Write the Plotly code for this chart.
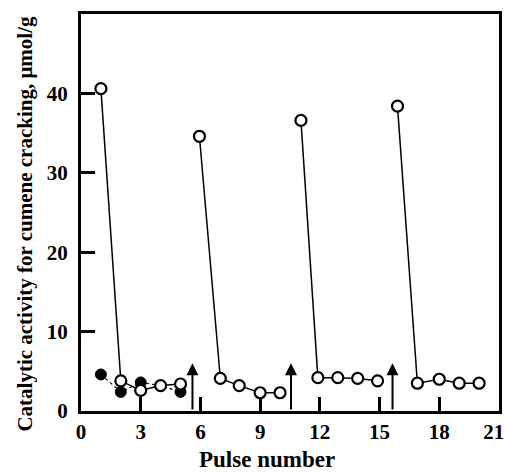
import plotly.graph_objects as go

# Open circles: four activity cycles (pulse number, activity)
cycle1_x = [1, 2, 3, 4, 5]
cycle1_y = [40.6, 3.8, 2.6, 3.2, 3.4]
cycle2_x = [5.95, 7, 7.95, 9, 10]
cycle2_y = [34.6, 4.1, 3.2, 2.3, 2.3]
cycle3_x = [11.05, 11.9, 12.9, 13.9, 14.9]
cycle3_y = [36.6, 4.2, 4.2, 4.1, 3.8]
cycle4_x = [15.9, 16.9, 18, 19, 20]
cycle4_y = [38.4, 3.5, 4.0, 3.5, 3.5]

# Filled circles
filled_x = [1, 2, 3, 4, 5]
filled_y = [4.6, 2.4, 3.6, 3.2, 2.4]

# Arrows (regeneration)
arrow_x = [5.6, 10.55, 15.65]
arrow_top = 6.0

x_ticks = [0, 3, 6, 9, 12, 15, 18, 21]
y_ticks = [0, 10, 20, 30, 40]

x_title = "Pulse number"
y_title = "Catalytic activity for cumene cracking, μmol/g"

FONT = "Liberation Serif"

fig = go.Figure()

fig.add_trace(go.Scatter(
    x=filled_x, y=filled_y, mode="lines+markers",
    line=dict(color="black", width=1.2, dash="dot"),
    marker=dict(symbol="circle", size=11, color="black",
                line=dict(color="black", width=1)),
    showlegend=False))

for xs, ys in [(cycle1_x, cycle1_y), (cycle2_x, cycle2_y),
               (cycle3_x, cycle3_y), (cycle4_x, cycle4_y)]:
    fig.add_trace(go.Scatter(
        x=xs, y=ys, mode="lines+markers",
        line=dict(color="black", width=1.5),
        marker=dict(symbol="circle", size=11, color="white",
                    line=dict(color="black", width=2.2)),
        showlegend=False))

for ax in arrow_x:
    fig.add_annotation(
        x=ax, y=arrow_top, ax=ax, ay=0, xref="x", yref="y",
        axref="x", ayref="y", text="", showarrow=True,
        arrowhead=2, arrowsize=1.2, arrowwidth=2, arrowcolor="black")

# Axis titles as annotations (positioned like the reference)
fig.add_annotation(
    text="<b>" + x_title + "</b>", xref="paper", yref="paper",
    x=0.445, y=-0.123, showarrow=False, xanchor="center", yanchor="middle",
    font=dict(family=FONT, size=23, color="black"))
fig.add_annotation(
    text="<b>" + y_title + "</b>", xref="paper", yref="paper",
    x=-0.134, y=0.472, showarrow=False, xanchor="center", yanchor="middle",
    textangle=-90, font=dict(family=FONT, size=21, color="black"))

# last x label padded so it stays inside the page edge, as in the reference
x_ticktext = [str(v) for v in x_ticks]
x_ticktext[-1] = x_ticktext[-1] + "&nbsp;&nbsp;"

fig.update_xaxes(
    range=[0, 21], tickvals=x_ticks, ticktext=x_ticktext,
    ticks="inside", ticklen=14, tickwidth=2.5, tickcolor="black",
    showline=True, linecolor="black", linewidth=3, mirror=True,
    showgrid=False, zeroline=False, automargin=False,
    ticklabeloverflow="allow",
    tickfont=dict(family=FONT, size=21, color="black", weight="bold"))

fig.update_yaxes(
    range=[0, 50], tickvals=y_ticks, ticktext=[str(v) for v in y_ticks],
    ticks="inside", ticklen=14, tickwidth=2.5, tickcolor="black",
    showline=True, linecolor="black", linewidth=3, mirror=True,
    showgrid=False, zeroline=False, ticklabelstandoff=6, automargin=False,
    tickfont=dict(family=FONT, size=21, color="black", weight="bold"))

fig.update_layout(
    width=505, height=472,
    margin=dict(l=81, r=6, t=14, b=61),
    paper_bgcolor="white", plot_bgcolor="white",
    showlegend=False)

fig.write_html("out.html", config={"displayModeBar": False},
               post_script="document.body.style.margin='0';document.body.style.overflow='hidden';")
